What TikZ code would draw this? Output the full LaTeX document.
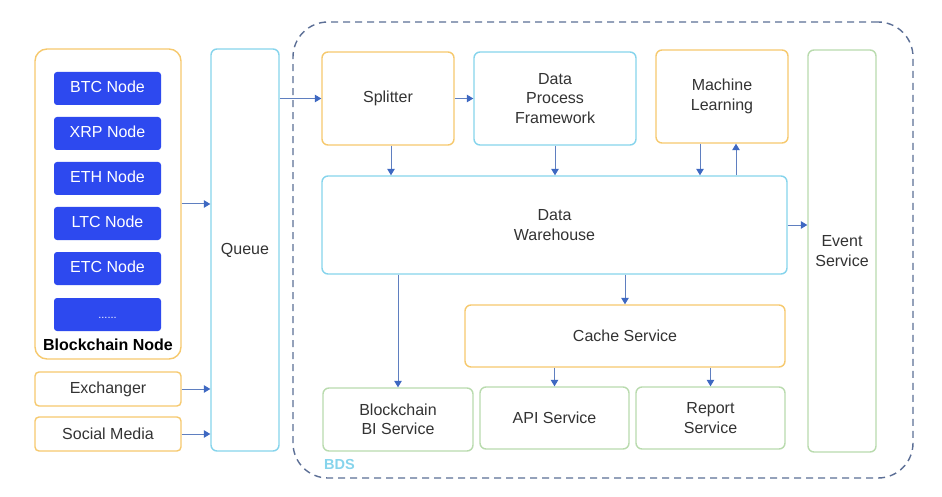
\documentclass[tikz,border=0pt]{standalone}
\usepackage{fontspec}
\setmainfont{Liberation Sans}
\usetikzlibrary{arrows.meta}
\definecolor{corange}{HTML}{F6C96E}
\definecolor{ccyan}{HTML}{86D4EC}
\definecolor{cgreen}{HTML}{B9DBAE}
\definecolor{cblue}{HTML}{2D49EF}
\definecolor{carrow}{HTML}{5F7FC0}
\definecolor{chead}{HTML}{3E68C2}
\definecolor{cdash}{HTML}{5C6F96}
\definecolor{ctext}{HTML}{333333}
\begin{document}
\begin{tikzpicture}[x=1pt,y=-1pt,
  every node/.style={font=\fontsize{16}{19.5}\selectfont, text=ctext, align=center, inner sep=0pt},
  box/.style={draw, line width=1.4pt, rounded corners=6pt, minimum width=#1},
  obox/.style={box=#1, draw=corange},
  cbox/.style={box=#1, draw=ccyan},
  gbox/.style={box=#1, draw=cgreen},
  bluebox/.style={fill=cblue, draw=none, rounded corners=3pt, minimum width=107pt, minimum height=33pt, text=white, text height=11.5pt, text depth=3pt},
  conn/.style={draw=carrow, line width=1pt, -{Triangle[length=6.5pt,width=7.5pt,color=chead]}}
]
\useasboundingbox[fill=white] (0,0) rectangle (942,497);

% BDS dashed container
\node[draw=cdash, dashed, dash pattern=on 7pt off 5pt, line width=1.4pt, rounded corners=35pt, minimum width=620pt, minimum height=456pt] (bds) at (603,250) {};
\node[font=\fontsize{14.5}{16}\selectfont\bfseries, text=ccyan, anchor=west] (bdslab) at (324,465) {BDS};

% Blockchain node group
\node[obox=146pt, minimum height=310pt, rounded corners=12pt] (bn) at (108,204) {};
\node[bluebox] (btc) at (107.5,88.5) {BTC Node};
\node[bluebox] (xrp) at (107.5,133.5) {XRP Node};
\node[bluebox] (eth) at (107.5,178.5) {ETH Node};
\node[bluebox] (ltc) at (107.5,223.5) {LTC Node};
\node[bluebox] (etc) at (107.5,268.5) {ETC Node};
\node[bluebox] (more) at (107.5,314.5) {\fontsize{11}{13}\selectfont ......};
\node[font=\fontsize{16}{19.5}\selectfont\bfseries, text=black] (bnlab) at (108,345) {Blockchain Node};

\node[obox=146pt, minimum height=34pt, rounded corners=4pt] (ex) at (108,389) {Exchanger};
\node[obox=146pt, minimum height=34pt, rounded corners=4pt] (sm) at (108,434) {Social Media};

\node[cbox=68pt, minimum height=402pt] (q) at (245,250) {Queue};

% BDS internals
\node[obox=132pt, minimum height=93pt] (sp) at (388,98.5) {Splitter};
\node[cbox=162pt, minimum height=93pt] (dpf) at (555,98.5) {Data\\Process\\Framework};
\node[obox=132pt, minimum height=93pt] (ml) at (722,96.5) {Machine\\Learning};
\node[gbox=68pt, minimum height=402pt] (ev) at (842,251) {Event\\Service};
\node[cbox=465pt, minimum height=98pt] (dw) at (554.5,225) {Data\\Warehouse};
\node[obox=320pt, minimum height=62pt] (cache) at (625,336) {Cache Service};
\node[gbox=150pt, minimum height=63pt] (bi) at (398,419.5) {Blockchain\\BI Service};
\node[gbox=149pt, minimum height=62pt] (api) at (554.5,418) {API Service};
\node[gbox=149pt, minimum height=62pt] (rep) at (710.5,418) {Report\\Service};

% connectors
\draw[conn] (bn.east) -- (bn.east -| q.west);
\draw[conn] (ex.east) -- (ex.east -| q.west);
\draw[conn] (sm.east) -- (sm.east -| q.west);
\draw[conn] (q.east |- sp.west) -- (sp.west);
\draw[conn] (sp.east) -- (dpf.west);
\draw[conn] ([xshift=3pt]sp.south) -- ([xshift=3pt]sp.south |- dw.north);
\draw[conn] (dpf.south) -- (dpf.south |- dw.north);
\draw[conn] ([xshift=-22pt]ml.south) -- ([xshift=-22pt]ml.south |- dw.north);
\draw[conn] ([xshift=14pt]ml.south |- dw.north) -- ([xshift=14pt]ml.south);
\draw[conn] (dw.east) -- (dw.east -| ev.west);
\draw[conn] (cache.north |- dw.south) -- (cache.north);
\draw[conn] (bi.north |- dw.south) -- (bi.north);
\draw[conn] (api.north |- cache.south) -- (api.north);
\draw[conn] (rep.north |- cache.south) -- (rep.north);
\end{tikzpicture}
\end{document}
